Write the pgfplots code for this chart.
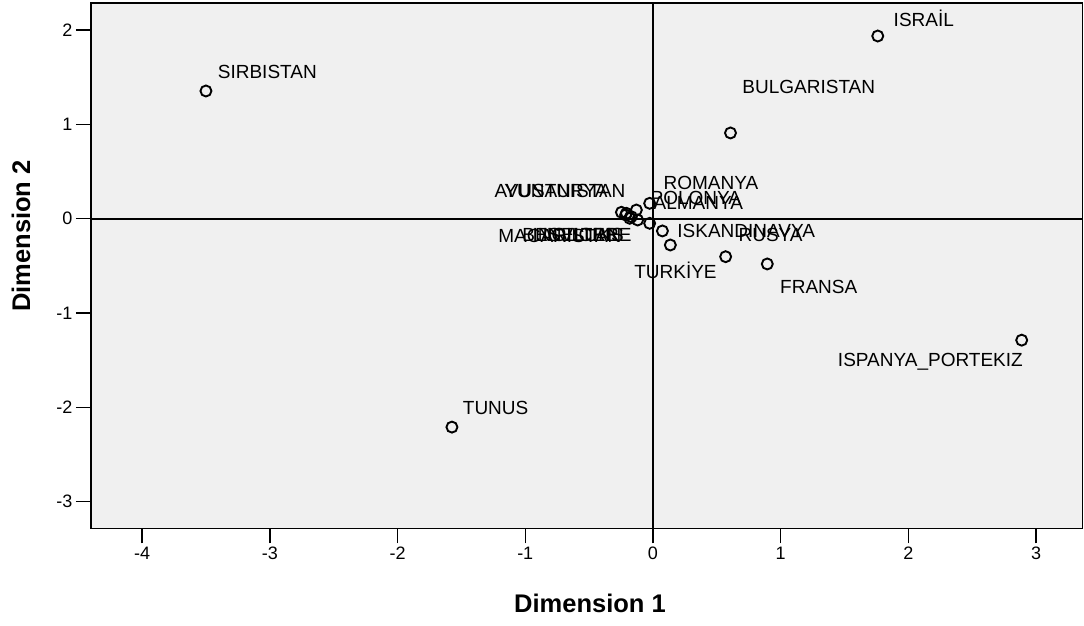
\documentclass[border=0pt]{standalone}
\usepackage{pgfplots}
\pgfplotsset{compat=1.18}
\usepackage{pgfplotstable}
\usepackage{fontspec}
\setmainfont{Liberation Sans}
\definecolor{plotbg}{RGB}{240,240,240}

% object points: coordinates, label and label offset (pt)
% labels set to the right of the point
\pgfplotstableread{
x       y       lab                 dx     dy
-3.500  1.354   SIRBISTAN           11     19
 1.760  1.937   ISRAİL              15     18
 0.607  0.909   BULGARISTAN         11     46
-1.574 -2.210   TUNUS               10     19
 0.895 -0.480   FRANSA              12     -23
 0.569 -0.403   RUSYA               12     22
 0.136 -0.279   TURKİYE             -37    -25
 0.074 -0.130   ISKANDINAVYA        14     0
-0.026  0.163   ROMANYA             13     20
-0.120 -0.014   POLONYA             12     22
-0.026 -0.049   ALMANYA             3      20
}\ptsright
% labels set to the left of the point
\pgfplotstableread{
x       y       lab                 dx     dy
 2.887 -1.288   ISPANYA\_PORTEKIZ   2      -22
-0.247  0.068   AVUSTURYA           -13    21
-0.208  0.057   YUNANISTAN          0      22
-0.169  0.021   MACARISTAN          -9     -19
-0.182  0.004   BENELUKS            -5     -17
-0.130  0.092   INGILTERE           -4     -25
-0.214  0.039   ISVICRE             -6     -20
}\ptsleft

\pgfplotsset{
  objpts/.style={
    only marks,
    mark=o,
    mark size=5.5pt,
    mark options={line width=1.9pt, black},
    point meta=explicit symbolic,
    visualization depends on={\thisrow{dx} \as \lx},
    visualization depends on={\thisrow{dy} \as \ly},
    nodes near coords,
    every node near coord/.style={
      anchor=#1, inner sep=0pt, xshift=\lx pt, yshift=\ly pt,
      font=\fontsize{19}{21}\selectfont, text=black},
  },
}

\begin{document}
\begin{tikzpicture}
\useasboundingbox (-91pt,-97.7pt) rectangle (993pt,528.3pt);
\begin{axis}[
  at={(0,0)}, anchor=south west,
  scale only axis,
  width=991.5pt, height=525.3pt,
  xmin=-4.40, xmax=3.363,
  ymin=-3.283, ymax=2.287,
  axis background/.style={fill=plotbg},
  axis line style={black, line width=1.3pt},
  xtick={-4,-3,-2,-1,0,1,2,3},
  xticklabels={-4,-3,-2,-1,0,1,2,3},
  ytick={-3,-2,-1,0,1,2},
  yticklabels={-3,-2,-1,0,1,2},
  xtick pos=bottom, ytick pos=left,
  tick align=outside,
  major tick length=15pt,
  tick style={black, line width=1.5pt},
  tick label style={font=\fontsize{18}{20}\selectfont},
  xlabel={Dimension 1},
  ylabel={Dimension 2},
  label style={font=\bfseries\fontsize{25.5}{28}\selectfont},
  xlabel style={at={(axis description cs:0.5033,-0.1422)}, anchor=center},
  ylabel style={at={(axis description cs:-0.0706,0.5565)}, anchor=center},
  clip=false,
]
% reference lines through the origin
\addplot[black, line width=2pt, forget plot] coordinates {(0,-3.283) (0,2.287)};
\addplot[black, line width=2pt, forget plot] coordinates {(-4.40,0) (3.363,0)};

\addplot[objpts=west] table[x=x, y=y, meta=lab] {\ptsright};
\addplot[objpts=east] table[x=x, y=y, meta=lab] {\ptsleft};
\end{axis}
\end{tikzpicture}
\end{document}
